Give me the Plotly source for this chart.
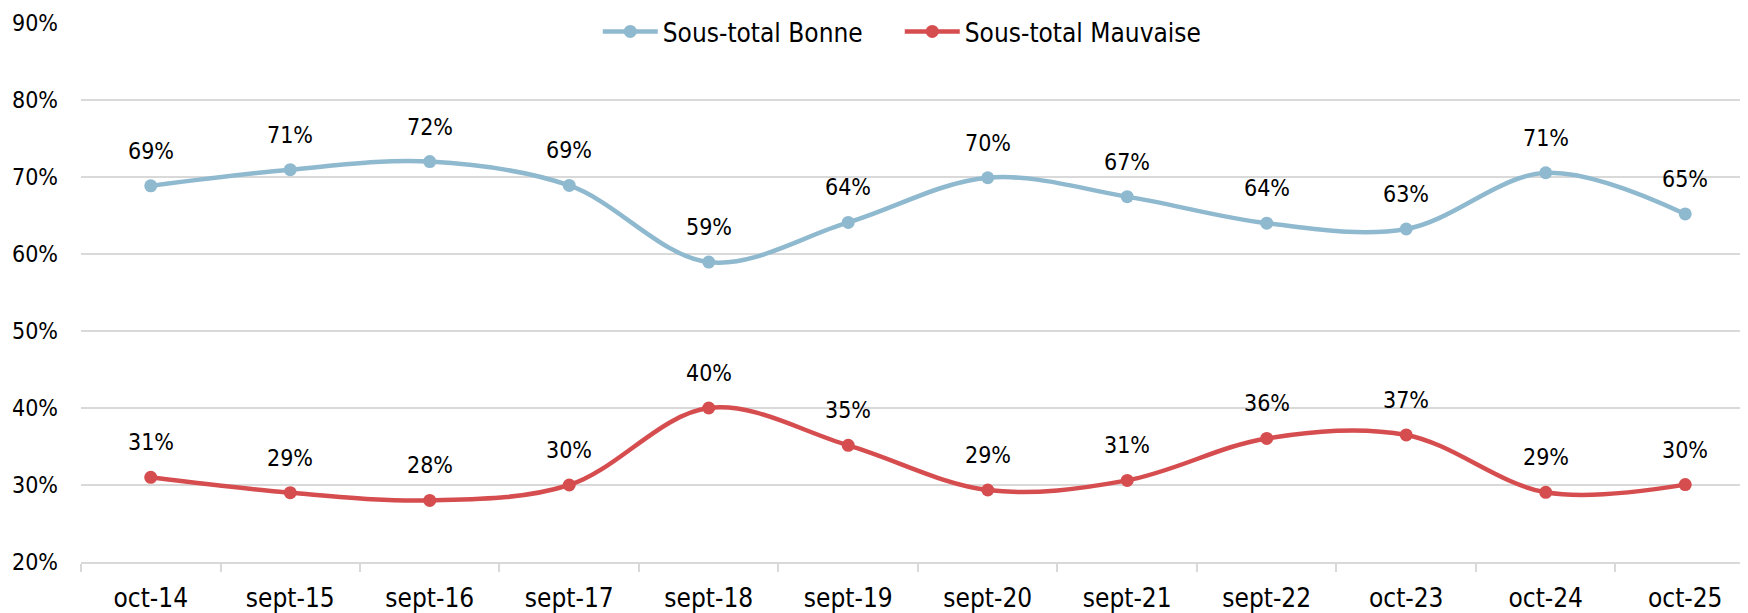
import plotly.graph_objects as go

categories = ["oct-14", "sept-15", "sept-16", "sept-17", "sept-18", "sept-19",
              "sept-20", "sept-21", "sept-22", "oct-23", "oct-24", "oct-25"]
bonne = [0.6885, 0.7095, 0.7200, 0.6890, 0.5895, 0.6410,
         0.6990, 0.6745, 0.6400, 0.6325, 0.7055, 0.6520]
mauvaise = [0.3100, 0.2900, 0.2800, 0.3000, 0.4000, 0.3515,
            0.2935, 0.3060, 0.3605, 0.3650, 0.2905, 0.3005]
bonne_labels = ["69%", "71%", "72%", "69%", "59%", "64%", "70%", "67%", "64%", "63%", "71%", "65%"]
mauvaise_labels = ["31%", "29%", "28%", "30%", "40%", "35%", "29%", "31%", "36%", "37%", "29%", "30%"]
y_ticks = [0.2, 0.3, 0.4, 0.5, 0.6, 0.7, 0.8, 0.9]

BLUE = "rgb(143,185,207)"
RED = "rgb(214,77,79)"
FONT = "DejaVu Sans Condensed, Liberation Sans Narrow, DejaVu Sans, sans-serif"

fig = go.Figure()
fig.add_trace(go.Scatter(
    x=categories, y=bonne, name="Sous-total Bonne", mode="lines+markers",
    line=dict(color=BLUE, width=4.5, shape="spline", smoothing=1),
    marker=dict(color=BLUE, size=13)))
fig.add_trace(go.Scatter(
    x=categories, y=mauvaise, name="Sous-total Mauvaise", mode="lines+markers",
    line=dict(color=RED, width=4.5, shape="spline", smoothing=1),
    marker=dict(color=RED, size=13)))

for xs, ys, labs in [(categories, bonne, bonne_labels), (categories, mauvaise, mauvaise_labels)]:
    for xv, yv, t in zip(xs, ys, labs):
        fig.add_annotation(x=xv, y=yv, text=t, showarrow=False, yshift=35,
                           font=dict(family=FONT, size=23, color="black"))

fig.update_layout(
    width=1740, height=605,
    margin=dict(l=73, r=0, t=15, b=48),
    paper_bgcolor="white", plot_bgcolor="white",
    font=dict(family=FONT, color="black"),
    legend=dict(orientation="h", x=0.31, xanchor="left", y=0.985, yanchor="middle",
                itemwidth=55, entrywidth=232, entrywidthmode="pixels",
                bgcolor="white", font=dict(family=FONT, size=26, color="black")),
    showlegend=True,
)
fig.update_xaxes(
    type="category", range=[-0.5, 11.45],
    showgrid=False, showline=True, linecolor="#d9d9d9", linewidth=1.5,
    ticks="outside", tickson="boundaries", ticklen=8, tickcolor="#d9d9d9", tickwidth=1.5,
    tickfont=dict(family=FONT, size=26, color="black"), ticklabelstandoff=12,
)
fig.update_yaxes(
    range=[0.2, 0.9], tickvals=y_ticks, tickformat=".0%",
    showgrid=True, gridcolor="#d9d9d9", gridwidth=1.5, zeroline=False, showline=False,
    ticks="", tickfont=dict(family=FONT, size=23, color="black"), ticklabelstandoff=22,
)

fig.write_html("out.html")
